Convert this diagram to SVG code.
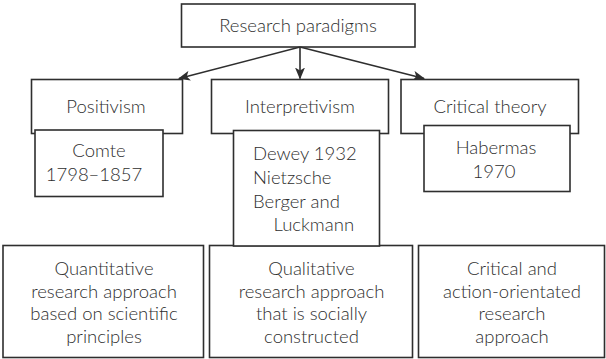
<svg xmlns="http://www.w3.org/2000/svg" width="606" height="359" viewBox="0 0 606 359">
  <style>
    rect { fill: #fff; stroke: #2e2e2e; stroke-width: 1.6; }
    text { font-family: Lato, "Open Sans", "Liberation Sans", sans-serif; font-size: 18.5px; fill: #2e2e2e; font-weight: 300; }
    .c { text-anchor: middle; }
    .conn { stroke: #2e2e2e; stroke-width: 1.6; fill: none; marker-end: url(#arrow); }
  </style>
  <defs>
    <marker id="arrow" markerWidth="12" markerHeight="10" viewBox="0 0 12 10" refX="11" refY="5" orient="auto" markerUnits="userSpaceOnUse">
      <path d="M0,0 L12,5 L0,10 L3,5 Z" fill="#2e2e2e"/>
    </marker>
  </defs>

  <g id="root">
    <rect x="181.5" y="4" width="233.5" height="43"/>
    <text class="c" x="298" y="32">Research paradigms</text>
  </g>

  <g id="connectors">
    <line class="conn" x1="300" y1="47" x2="179" y2="78.5"/>
    <line class="conn" x1="300" y1="47" x2="300" y2="78.5"/>
    <line class="conn" x1="300" y1="47" x2="424" y2="78.5"/>
  </g>

  <g id="positivism">
    <rect x="31.5" y="79.5" width="151" height="54"/>
    <text class="c" x="106" y="113">Positivism</text>
  </g>
  <g id="comte">
    <rect x="35" y="130" width="128" height="66.5"/>
    <text class="c" x="99" y="156.5">Comte</text>
    <text class="c" x="94" y="181">1798–1857</text>
  </g>

  <g id="interpretivism">
    <rect x="211.5" y="79.5" width="177" height="54"/>
    <text class="c" x="300" y="113">Interpretivism</text>
  </g>

  <g id="critical-theory">
    <rect x="401" y="79.5" width="177.5" height="54"/>
    <text class="c" x="490" y="113">Critical theory</text>
  </g>
  <g id="habermas">
    <rect x="424" y="125.5" width="146" height="66"/>
    <text class="c" x="496" y="154">Habermas</text>
    <text class="c" x="494" y="177.5">1970</text>
  </g>

  <g id="quantitative">
    <rect x="3" y="245.5" width="200.5" height="112"/>
    <text class="c" x="104" y="275">Quantitative</text>
    <text class="c" x="104" y="297.5">research approach</text>
    <text class="c" x="104" y="320">based on scientific</text>
    <text class="c" x="104" y="342.5">principles</text>
  </g>

  <g id="qualitative">
    <rect x="209.5" y="245.5" width="203" height="112"/>
    <text class="c" x="311.5" y="275">Qualitative</text>
    <text class="c" x="311.5" y="297.5">research approach</text>
    <text class="c" x="311.5" y="320">that is socially</text>
    <text class="c" x="311.5" y="342.5">constructed</text>
  </g>

  <g id="critical-action">
    <rect x="418.5" y="245.5" width="186" height="112"/>
    <text class="c" x="512" y="275">Critical and</text>
    <text class="c" x="512" y="297.5">action-orientated</text>
    <text class="c" x="512" y="320">research</text>
    <text class="c" x="512" y="342.5">approach</text>
  </g>

  <g id="interpretivism-authors">
    <rect x="233.5" y="130.5" width="146" height="115.5"/>
    <text x="253" y="159.5">Dewey 1932</text>
    <text x="253" y="183.5">Nietzsche</text>
    <text x="253" y="207.5">Berger and</text>
    <text x="273.5" y="231">Luckmann</text>
  </g>
</svg>
